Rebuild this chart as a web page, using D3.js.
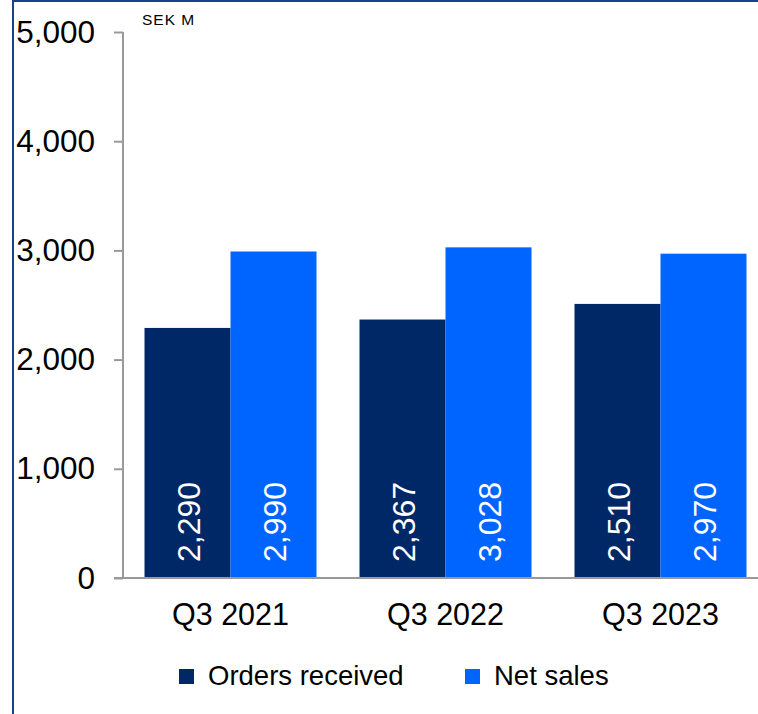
<!DOCTYPE html>
<html>
<head>
<meta charset="utf-8">
<script src="https://cdn.jsdelivr.net/npm/d3@7/dist/d3.min.js"></script>
<style>
  html, body { margin: 0; padding: 0; background: #fff; }
  svg { display: block; font-family: Arial, "Liberation Sans", sans-serif; }
</style>
</head>
<body>
<svg id="chart" width="758" height="714"></svg>
<script>
// Quarterly orders received vs. net sales, SEK M
const quarters = ["Q3 2021", "Q3 2022", "Q3 2023"];
const seriesNames = ["Orders received", "Net sales"];
const ordersReceived = [2290, 2367, 2510];
const netSales = [2990, 3028, 2970];
const yTicks = [0, 1000, 2000, 3000, 4000, 5000];
const unitLabel = "SEK M";

const colors = ["#002866", "#0064FF"];
const seriesValues = [ordersReceived, netSales];

const svg = d3.select("#chart");
const W = 758, H = 714;

// frame edges (left and top)
svg.append("rect").attr("x", 12).attr("y", 0).attr("width", 2).attr("height", H).attr("fill", "#1E3F8C");
svg.append("rect").attr("x", 12).attr("y", 0).attr("width", W - 12).attr("height", 2).attr("fill", "#1E3F8C");

const plot = { left: 123, right: 768, top: 32, bottom: 578 };

const x0 = d3.scaleBand().domain(quarters).range([plot.left, plot.right])
  .paddingInner(0.2).paddingOuter(0.1);
const x1 = d3.scaleBand().domain(seriesNames).range([0, x0.bandwidth()]).padding(0);
const y = d3.scaleLinear().domain([0, 5000]).range([plot.bottom, plot.top]);

const fmt = d3.format(",");

// bars
const groups = svg.append("g").selectAll("g").data(quarters).join("g")
  .attr("transform", d => `translate(${x0(d)},0)`);

groups.each(function(q, qi) {
  const g = d3.select(this);
  seriesNames.forEach((s, si) => {
    const v = seriesValues[si][qi];
    g.append("rect")
      .attr("x", x1(s)).attr("y", y(v))
      .attr("width", x1.bandwidth()).attr("height", y(0) - y(v))
      .attr("fill", colors[si]);
    const cx = x1(s) + x1.bandwidth() / 2;
    g.append("text")
      .attr("transform", `translate(${cx + 12},${y(0) - 16}) rotate(-90)`)
      .attr("text-anchor", "start")
      .attr("fill", "#fff")
      .attr("font-size", 32)
      .text(fmt(v));
  });
});

// y axis
const yAxis = d3.axisLeft(y).tickValues(yTicks).tickFormat(fmt).tickSize(9).tickPadding(19);
const ya = svg.append("g").attr("transform", `translate(${plot.left},0)`).call(yAxis);
ya.select(".domain").attr("stroke", "#999").attr("stroke-width", 2).attr("d", `M0,${plot.top}V${plot.bottom}`);
ya.selectAll(".tick line").attr("stroke", "#999").attr("stroke-width", 2);
ya.selectAll(".tick text").attr("font-size", 31.5).attr("fill", "#000")
  .attr("font-family", "Arial, 'Liberation Sans', sans-serif");

// x axis baseline
const xAxis = d3.axisBottom(x0).tickSize(0).tickPadding(25);
const xa = svg.append("g").attr("transform", `translate(0,${plot.bottom})`).call(xAxis);
xa.select(".domain").attr("stroke", "#999").attr("stroke-width", 2).attr("d", `M${plot.left - 9},0H${W}`);
xa.selectAll(".tick text").attr("font-size", 30.5).attr("fill", "#000")
  .attr("font-family", "Arial, 'Liberation Sans', sans-serif");

// unit label
svg.append("text").attr("x", 142).attr("y", 25).attr("font-size", 15.5)
  .attr("letter-spacing", 1).attr("fill", "#000").text(unitLabel);

// legend
const legendX = [179, 465];
const legend = svg.append("g").selectAll("g").data(seriesNames).join("g")
  .attr("transform", (d, i) => `translate(${legendX[i]},669)`);
legend.append("rect").attr("width", 15).attr("height", 15).attr("fill", (d, i) => colors[i]);
legend.append("text").attr("x", 29).attr("y", 16).attr("font-size", 27.5).attr("fill", "#000").text(d => d);
</script>
</body>
</html>
